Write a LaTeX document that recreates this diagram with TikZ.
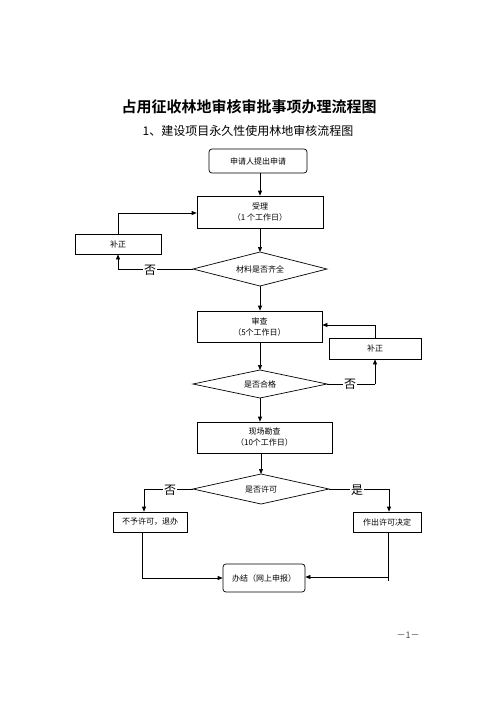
\documentclass[tikz,border=0pt]{standalone}
\usepackage{fontspec}
\newfontfamily\cjk{Noto Sans CJK SC}
\newfontfamily\cjkb{Noto Sans CJK SC Bold}
\usetikzlibrary{arrows.meta}
\begin{document}
\begin{tikzpicture}[x=1pt,y=-1pt,
  box/.style={draw,line width=0.7pt,inner sep=0pt,font=\cjk\fontsize{8}{11}\selectfont,align=center},
  rbox/.style={box,rounded corners=3pt},
  dia/.style={line width=0.7pt},
  dtext/.style={font=\cjk\fontsize{8}{10}\selectfont,inner sep=1pt},
  lbl/.style={font=\cjk\fontsize{12}{12}\selectfont,fill=white,inner sep=1pt},
  arr/.style={line width=0.7pt,-{Triangle[length=5pt,width=4pt]}},
  ln/.style={line width=0.7pt}]
\useasboundingbox (0,0) rectangle (496,702);
\node[font=\cjkb\fontsize{15}{15}\selectfont] (title) at (249,107) {占用征收林地审核审批事项办理流程图};
\node[font=\cjk\fontsize{12}{12}\selectfont] (sub) at (248,131) {1、建设项目永久性使用林地审核流程图};
% boxes
\node[rbox,minimum width=98pt,minimum height=24pt] (start) at (258,161) {申请人提出申请};
\node[box,minimum width=126pt,minimum height=32pt] (accept) at (260,212) {受理\\（1 个工作日）};
\node[dtext] (d1) at (260,269) {材料是否齐全};
\draw[dia] (193,269) -- (260,252) -- (327,269) -- (260,286) -- cycle;
\coordinate (d1l) at (193,269); \coordinate (d1b) at (260,286); \coordinate (d1t) at (260,252);
\node[box,minimum width=86pt,minimum height=20pt] (fix1) at (118,244) {补正};
\node[box,minimum width=125pt,minimum height=31pt] (review) at (259.5,326.5) {审查\\（5个工作日）};
\node[dtext] (d2) at (260,384) {是否合格};
\draw[dia] (193,384) -- (260,370) -- (327,384) -- (260,398) -- cycle;
\coordinate (d2r) at (327,384); \coordinate (d2b) at (260,398); \coordinate (d2t) at (260,370);
\node[box,minimum width=92pt,minimum height=21pt] (fix2) at (375,348.5) {补正};
\node[box,minimum width=135pt,minimum height=31pt] (site) at (264.5,437.5) {现场勘查\\（10个工作日）};
\node[dtext] (d3) at (261,489) {是否许可};
\draw[dia] (193,489) -- (261,474) -- (329,489) -- (261,504) -- cycle;
\coordinate (d3l) at (193,489); \coordinate (d3r) at (329,489); \coordinate (d3t) at (261,474);
\node[box,minimum width=74pt,minimum height=20pt] (deny) at (150,522) {不予许可，退办};
\node[box,minimum width=68pt,minimum height=20pt] (grant) at (387,522) {作出许可决定};
\node[rbox,minimum width=82pt,minimum height=28pt] (done) at (264,578) {办结（网上申报）};
% connectors
\draw[arr] (start.south -| 260,0) -- (accept.north -| 260,0);
\draw[arr] (accept.south -| d1t) -- (d1t);
\draw[arr] (d1b) -- (review.north -| d1b);
\draw[ln] (d1l) -- (118,269) coordinate (c1);
\draw[arr] (c1) -- (fix1.south);
\draw[arr] (fix1.north) |- (accept.west |- 0,213);
\node[lbl] (no1) at (150,270) {否};
\draw[arr] (review.south -| d2t) -- (d2t);
\draw[arr] (d2b) -- (site.north -| d2b);
\draw[ln] (d2r) -- (375,384) coordinate (c2);
\draw[arr] (c2) -- (fix2.south);
\draw[arr] (fix2.north) |- (review.east |- 0,325);
\node[lbl] (no2) at (350,384) {否};
\draw[arr] (site.south -| d3t) -- (d3t);
\draw[ln] (d3l) -- (144,489) coordinate (c3);
\draw[arr] (c3) -- (deny.north -| c3);
\node[lbl] (no3) at (170,490) {否};
\draw[ln] (d3r) -- (389,489) coordinate (c4);
\draw[arr] (c4) -- (grant.north -| c4);
\node[lbl] (yes) at (357,490) {是};
\draw[arr] (deny.south -| 142,0) |- (done.west);
\draw[ln] (grant.south -| 388,0) -- (388,581) coordinate (c5);
\draw[arr] (388,577) -- (done.east |- 0,577);
\node[font=\cjk\fontsize{9}{9}\selectfont,text=black!70] (pg) at (408,635) {－1－};
\end{tikzpicture}
\end{document}
